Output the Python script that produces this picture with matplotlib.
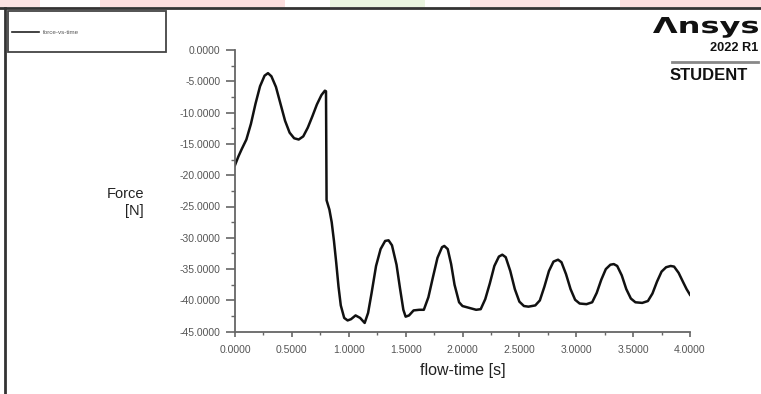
import matplotlib
matplotlib.use("Agg")
import matplotlib.pyplot as plt
from matplotlib.ticker import FormatStrFormatter, MultipleLocator
from matplotlib.patches import Rectangle, PathPatch
from matplotlib.textpath import TextPath
from matplotlib.font_manager import FontProperties
from matplotlib.transforms import Affine2D

plt.rcParams['font.family'] = ['Liberation Sans', 'DejaVu Sans']

# force-vs-time
flow_time = [0.00, 0.03, 0.06, 0.10, 0.14, 0.18, 0.22, 0.26, 0.29, 0.32,
             0.36, 0.40, 0.44, 0.48, 0.52, 0.56, 0.60, 0.64, 0.68, 0.72,
             0.76, 0.79, 0.80, 0.805, 0.83, 0.85, 0.87, 0.89, 0.91, 0.93,
             0.96, 0.99, 1.02, 1.06, 1.10, 1.14, 1.17, 1.20, 1.24, 1.28,
             1.32, 1.35, 1.38, 1.42, 1.45, 1.48, 1.50, 1.53, 1.57, 1.62,
             1.66, 1.70, 1.74, 1.78, 1.82, 1.84, 1.87, 1.90, 1.93, 1.97,
             2.00, 2.06, 2.12, 2.16, 2.20, 2.24, 2.28, 2.32, 2.35, 2.38,
             2.42, 2.46, 2.50, 2.54, 2.58, 2.64, 2.68, 2.72, 2.76, 2.80,
             2.84, 2.87, 2.91, 2.95, 2.99, 3.03, 3.09, 3.14, 3.18, 3.22,
             3.26, 3.30, 3.33, 3.36, 3.40, 3.44, 3.48, 3.52, 3.58, 3.63,
             3.67, 3.71, 3.75, 3.79, 3.83, 3.86, 3.90, 3.94, 3.97, 4.00]
force = [-18.4, -17.0, -15.8, -14.3, -11.8, -8.6, -5.8, -4.1, -3.7, -4.2,
         -5.9, -8.6, -11.3, -13.2, -14.1, -14.3, -13.8, -12.4, -10.6, -8.7,
         -7.2, -6.5, -6.6, -24.0, -25.5, -27.5, -30.5, -34.0, -37.8, -40.8,
         -42.8, -43.2, -43.0, -42.4, -42.8, -43.6, -42.0, -38.9, -34.5, -31.8,
         -30.5, -30.4, -31.2, -34.3, -38.0, -41.5, -42.6, -42.4, -41.6, -41.5,
         -41.5, -39.5, -36.3, -33.2, -31.5, -31.3, -31.8, -34.2, -37.5, -40.3,
         -40.9, -41.2, -41.5, -41.4, -39.8, -37.3, -34.5, -33.0, -32.7, -33.1,
         -35.3, -38.2, -40.2, -40.9, -41.0, -40.8, -40.0, -37.8, -35.3, -33.8,
         -33.5, -33.9, -35.8, -38.2, -39.9, -40.5, -40.6, -40.3, -38.8, -36.7,
         -35.0, -34.3, -34.2, -34.5, -36.0, -38.2, -39.7, -40.3, -40.4, -40.1,
         -38.9, -37.0, -35.4, -34.7, -34.5, -34.6, -35.6, -37.1, -38.2, -39.1]

W, H = 761, 394
fig = plt.figure(figsize=(W / 100, H / 100), dpi=100)
fig.patch.set_facecolor('white')

# overlay in pixel coordinates for the window decorations
ov = fig.add_axes([0, 0, 1, 1])
ov.set_xlim(0, W)
ov.set_ylim(H, 0)
ov.axis('off')

# faint watermark band over the top edge
for x0, x1, c in [(0, 40, '#fbe3e3'), (100, 285, '#fbdede'), (330, 425, '#eaf5e0'),
                  (470, 560, '#fbe3e3'), (620, 761, '#fbdede')]:
    ov.add_patch(Rectangle((x0, 0), x1 - x0, 7, color=c, lw=0))
ov.plot([0, W], [7.5, 7.5], color='#333333', lw=2)
ov.plot([4.5, 4.5], [7.5, H], color='#333333', lw=2)

# legend box
ov.add_patch(Rectangle((8, 11), 158, 41, fill=False, ec='#444444', lw=1.3))
ov.plot([12, 39], [32, 32], color='#222222', lw=1.2)
ov.text(43, 32, 'force-vs-time', fontsize=4.5, color='#555555', va='center')

# Ansys logo
tp = TextPath((0, 0), '\u039bnsys', size=1,
              prop=FontProperties(family='DejaVu Sans', weight='bold'))
ext = tp.get_extents()
sx = 105 / ext.width
sy = 16 / 0.73
tr = Affine2D().translate(-ext.x0, 0).scale(sx, -sy).translate(653, 33)
ov.add_patch(PathPatch(tr.transform_path(tp), color='#111111', lw=0))
ov.text(758, 47.5, '2022 R1', fontsize=9.2, fontweight='bold', color='#111111',
        ha='right', va='center')
ov.plot([672, 758], [62, 62], color='#888888', lw=2)
ov.text(748, 75.5, 'STUDENT', fontsize=12, fontweight='bold', color='#111111',
        ha='right', va='center')

# plot axes
ax = fig.add_axes([235 / W, 1 - 331.7 / H, (690 - 235) / W, (331.7 - 50) / H])
ax.patch.set_alpha(0)
ax.plot(flow_time, force, color='#111111', lw=1.8)
ax.set_xlim(0, 4)
ax.set_ylim(-45, 0)
for s in ['top', 'right']:
    ax.spines[s].set_visible(False)
for s in ['left', 'bottom']:
    ax.spines[s].set_color('#666666')
    ax.spines[s].set_linewidth(1.3)
ax.xaxis.set_major_locator(MultipleLocator(0.5))
ax.xaxis.set_minor_locator(MultipleLocator(0.25))
ax.yaxis.set_major_locator(MultipleLocator(5))
ax.yaxis.set_minor_locator(MultipleLocator(2.5))
ax.xaxis.set_major_formatter(FormatStrFormatter('%.4f'))
ax.yaxis.set_major_formatter(FormatStrFormatter('%.4f'))
ax.tick_params(axis='y', which='major', length=6.5, width=1.2, color='#666666',
               labelsize=7.5, labelcolor='#555555', pad=4)
ax.tick_params(axis='y', which='minor', length=3, width=1.0, color='#666666')
ax.tick_params(axis='x', which='major', length=3.5, width=1.2, color='#666666',
               labelsize=7.5, labelcolor='#555555', pad=6)
ax.tick_params(axis='x', which='minor', length=2, width=1.0, color='#666666')

fig.text(144 / W, 1 - 202.5 / H, 'Force\n[N]', fontsize=10.5, color='#222222',
         ha='right', va='center', multialignment='right', linespacing=1.3)
fig.text(463 / W, 1 - 370 / H, 'flow-time [s]', fontsize=11.5, color='#222222',
         ha='center', va='center')

fig.savefig('out.png', dpi=100)
